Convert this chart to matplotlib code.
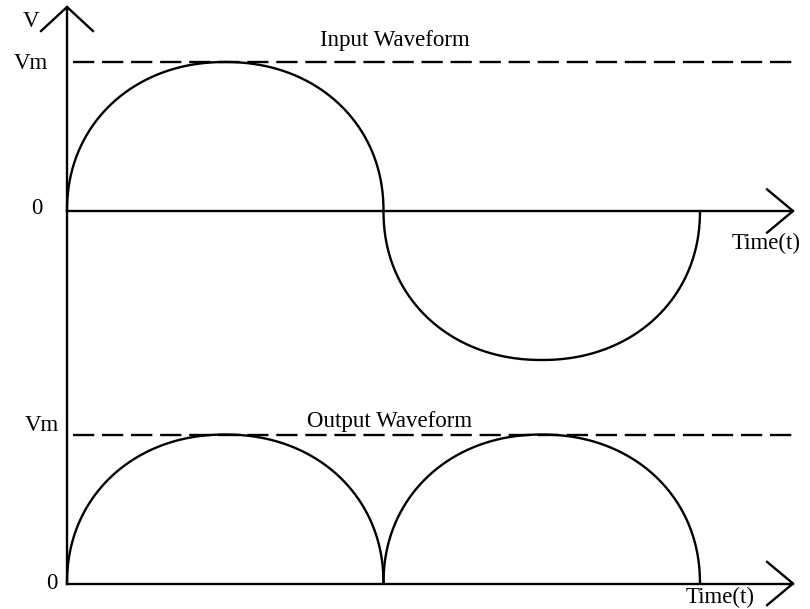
import numpy as np
import matplotlib.pyplot as plt

# half-cycle boundaries (in half periods) and peak signs
half_starts = [0, 1]
input_signs = [1, -1]
output_signs = [1, 1]
Vm = 1.0
out_offset = -2.5          # where the output baseline sits below the input one

y_labels = ['Vm', '0']
x_label = 'Time(t)'
title_in = 'Input Waveform'
title_out = 'Output Waveform'

plt.rcParams['font.family'] = ['Liberation Serif', 'DejaVu Serif']

fig = plt.figure(figsize=(8.1, 6.09), dpi=100)
ax = fig.add_axes([0, 0, 1, 1])
ax.set_xlim(-0.2117, 2.3476)
ax.set_ylim(-2.671, 1.416)
ax.axis('off')

lw = 1.7
k = 'black'


def half_wave(t0, sign, base):
    # rounded half cycle, as drawn in the schematic
    th = np.linspace(0, np.pi, 400)
    n = 2.1
    x = t0 + 0.5 - 0.5 * np.sign(np.cos(th)) * np.abs(np.cos(th)) ** (2 / n)
    y = base + sign * Vm * np.abs(np.sin(th)) ** (2 / n)
    return x, y


for t0, s in zip(half_starts, input_signs):
    x, y = half_wave(t0, s, 0)
    ax.plot(x, y, color=k, lw=lw, solid_capstyle='round')

for t0, s in zip(half_starts, output_signs):
    x, y = half_wave(t0, s, out_offset)
    ax.plot(x, y, color=k, lw=lw, solid_capstyle='round')

x_tip = 2.294
# vertical axis with open arrow head
ax.plot([0, 0], [out_offset, 1.369], color=k, lw=lw)
ax.plot([-0.082, 0, 0.082], [1.208, 1.369, 1.208], color=k, lw=lw)

# time axes with open arrow heads
for base in [0, out_offset]:
    ax.plot([0, x_tip], [base, base], color=k, lw=lw)
    ax.plot([x_tip - 0.082, x_tip, x_tip - 0.082],
            [base + 0.145, base, base - 0.145], color=k, lw=lw)

# Vm dashed lines
for base in [0, out_offset]:
    ax.plot([0.02, 2.29], [base + Vm, base + Vm], color=k, lw=lw,
            dashes=(9, 3.3))

fs = 16.5
ax.text(-0.115, 1.27, 'V', fontsize=fs, ha='center', va='center')
ax.text(-0.113, Vm - 0.01, y_labels[0], fontsize=fs, ha='center', va='center')
ax.text(-0.095, 0.02, y_labels[1], fontsize=fs, ha='center', va='center')
ax.text(-0.078, out_offset + Vm + 0.06, y_labels[0], fontsize=fs, ha='center', va='center')
ax.text(-0.047, out_offset, y_labels[1], fontsize=fs, ha='center', va='center')

ax.text(2.2085, -0.215, x_label, fontsize=fs, ha='center', va='center')
ax.text(2.063, out_offset - 0.095, x_label, fontsize=fs, ha='center', va='center')

ax.text(1.036, 1.11, title_in, fontsize=fs, ha='center', va='baseline')
ax.text(1.02, out_offset + Vm + 0.05, title_out, fontsize=fs, ha='center', va='baseline')

fig.savefig('out.png', dpi=100)
